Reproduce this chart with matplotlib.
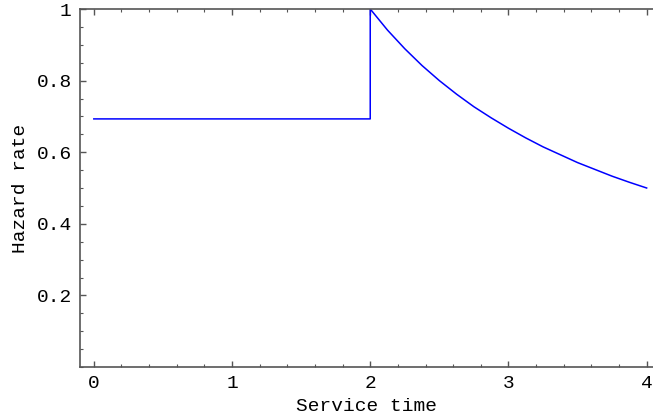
import matplotlib
matplotlib.use("Agg")
import matplotlib.pyplot as plt
from matplotlib.ticker import MultipleLocator

# values
flat_t = [0.0, 2.0]
flat_h = [0.693, 0.693]
decay_t = [2.0, 2.125, 2.25, 2.375, 2.5, 2.625, 2.75, 2.875, 3.0,
           3.125, 3.25, 3.375, 3.5, 3.625, 3.75, 3.875, 4.0]
decay_h = [1.0, 0.941, 0.889, 0.842, 0.800, 0.762, 0.727, 0.696, 0.667,
           0.640, 0.615, 0.593, 0.571, 0.552, 0.533, 0.516, 0.500]
xticks = [0, 1, 2, 3, 4]
yticks = [0.2, 0.4, 0.6, 0.8, 1.0]
ytick_labels = ["0.2", "0.4", "0.6", "0.8", "1"]

t = flat_t + decay_t
h = flat_h + decay_h

fig = plt.figure(figsize=(6.53, 4.18), dpi=100)
ax = fig.add_axes([80/653, 51/418, 573/653, 358/418])

ax.plot(t, h, color="#0000ff", lw=1.1)

ax.set_xlim(-0.1, 4.046)
ax.set_ylim(0, 1)

mono = "Liberation Mono"
fs = 14
spine_col = "#555555"
ax.set_xticks(xticks)
ax.set_xticklabels([str(v) for v in xticks], family=mono, fontsize=fs)
ax.set_yticks(yticks)
ax.set_yticklabels(ytick_labels, family=mono, fontsize=fs)
ax.xaxis.set_minor_locator(MultipleLocator(0.2))
ax.yaxis.set_minor_locator(MultipleLocator(0.05))

ax.tick_params(which="both", direction="in", top=True, right=False, color=spine_col)
ax.tick_params(which="major", length=4, width=1)
ax.tick_params(axis="x", which="major", pad=6)
ax.tick_params(axis="y", which="major", pad=6)
ax.tick_params(which="minor", length=2.5, width=0.8)

for s in ["left", "bottom", "top"]:
    ax.spines[s].set_color(spine_col)
    ax.spines[s].set_linewidth(1.2)
ax.spines["right"].set_visible(False)

ax.set_xlabel("Service time", family=mono, fontsize=fs, labelpad=4)
ax.set_ylabel("Hazard rate", family=mono, fontsize=fs, labelpad=5)

fig.savefig("out.png", dpi=100)
